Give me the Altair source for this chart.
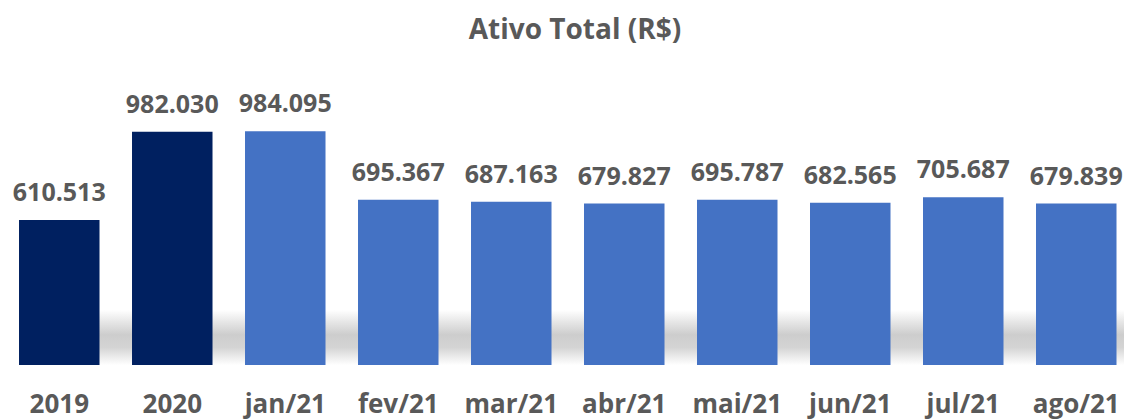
import altair as alt
import pandas as pd

categorias = ["2019", "2020", "jan/21", "fev/21", "mar/21", "abr/21",
              "mai/21", "jun/21", "jul/21", "ago/21"]
valores = [610513, 982030, 984095, 695367, 687163, 679827,
           695787, 682565, 705687, 679839]
tipos = ["Ano", "Ano", "Mês", "Mês", "Mês", "Mês", "Mês", "Mês", "Mês", "Mês"]

df = pd.DataFrame({"categoria": categorias, "valor": valores, "tipo": tipos})

FONT = "Open Sans"
CINZA = "#595959"
W, H = 1116, 310

x = alt.X(
    "categoria:N",
    sort=categorias,
    scale=alt.Scale(paddingInner=0.2876, paddingOuter=0.0819, align=0.595),
    axis=alt.Axis(
        title=None, labelAngle=0, domain=False, ticks=False, tickSize=0,
        grid=False, labelPadding=47, labelBaseline="alphabetic",
        labelFont=FONT, labelFontSize=26, labelFontWeight="bold",
        labelColor=CINZA,
    ),
)
y = alt.Y("valor:Q", scale=alt.Scale(domain=[0, 1305000]), axis=None)

base = alt.Chart(df)

sombra = base.mark_bar(
    xOffset=33,
    fill=alt.Gradient(
        gradient="linear",
        stops=[
            alt.GradientStop(color="#ffffff", offset=0),
            alt.GradientStop(color="#e6e6e6", offset=0.22),
            alt.GradientStop(color="#cdcdcd", offset=0.45),
            alt.GradientStop(color="#d4d4d4", offset=0.68),
            alt.GradientStop(color="#efefef", offset=0.88),
            alt.GradientStop(color="#ffffff", offset=1),
        ],
        x1=0, x2=0, y1=0, y2=1,
    ),
).encode(x=x, y=alt.value(H - 55), y2=alt.value(H))

barras = base.mark_bar().encode(
    x=x,
    y=y,
    color=alt.Color(
        "tipo:N",
        scale=alt.Scale(domain=["Ano", "Mês"], range=["#002060", "#4472C4"]),
        legend=None,
    ),
)

rotulos = base.transform_calculate(
    rotulo="replace(format(datum.valor, ','), ',', '.')"
).mark_text(
    dy=-19, baseline="alphabetic", font=FONT, fontSize=25,
    fontWeight="bold", color=CINZA,
).encode(x=x, y=y, text="rotulo:N")

chart = alt.layer(sombra, barras, rotulos).properties(
    width=W,
    height=H,
    title=alt.TitleParams(
        "Ativo Total (R$)", font=FONT, fontSize=28, fontWeight="bold",
        color=CINZA, anchor="middle", baseline="alphabetic", offset=18,
        dx=9, dy=30,
    ),
    padding={"left": 0, "right": 0, "top": 47, "bottom": 55},
    autosize=alt.AutoSizeParams(type="none"),
).configure_view(stroke=None)

chart.save("out.html", embed_options={"renderer": "svg", "actions": False})
